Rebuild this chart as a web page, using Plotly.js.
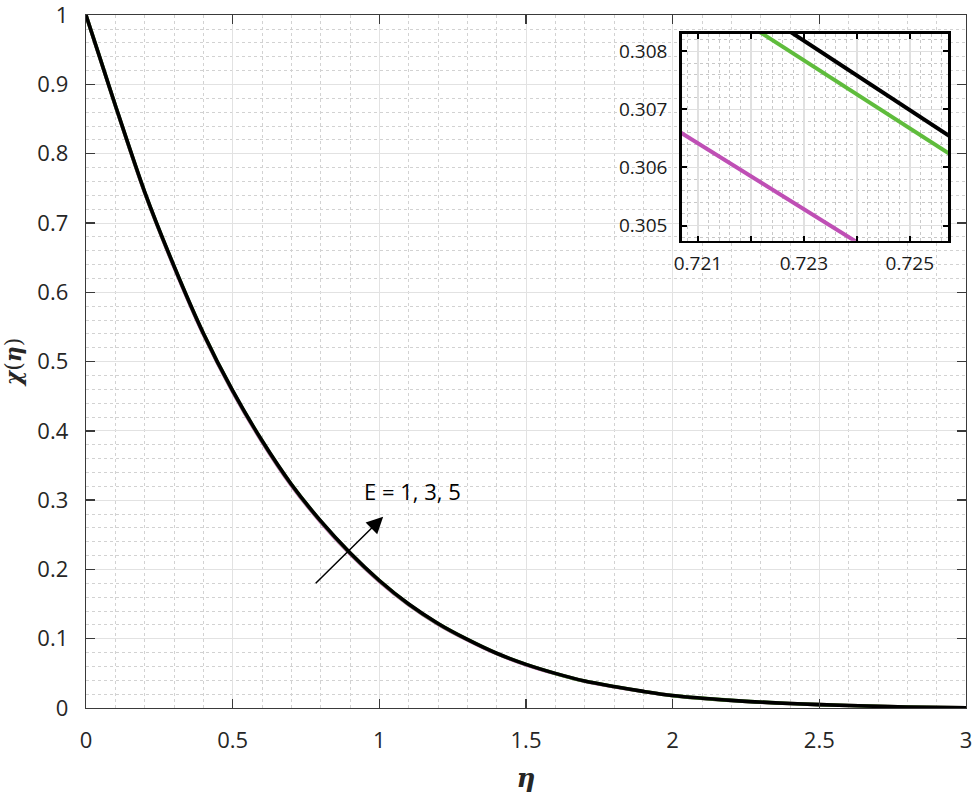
<!DOCTYPE html>
<html>
<head>
<meta charset="utf-8">
<script src="https://cdn.plot.ly/plotly-3.0.1.min.js"></script>
<style>html,body{margin:0;padding:0;background:#fff;}#chart{width:975px;height:794px;}</style>
</head>
<body>
<div id="chart"></div>
<script>
// ---- main panel data ----
const eta  = [0, 0.05, 0.1, 0.2, 0.3, 0.4, 0.5, 0.6, 0.7, 0.8, 0.9, 1.0, 1.1, 1.2, 1.3, 1.4, 1.5, 1.6, 1.7, 1.8, 1.9, 2.0, 2.2, 2.4, 2.6, 2.8, 3.0];
const chiE5 = [1, 0.935, 0.870, 0.745, 0.638, 0.541, 0.458, 0.386, 0.323, 0.270, 0.224, 0.184, 0.150, 0.122, 0.099, 0.079, 0.063, 0.050, 0.039, 0.031, 0.024, 0.018, 0.011, 0.0065, 0.0035, 0.0015, 0.0003];
const chiE3 = [1, 0.935, 0.8698, 0.7447, 0.6377, 0.5407, 0.4577, 0.3857, 0.3227, 0.2697, 0.2237, 0.1838, 0.1498, 0.1218, 0.0989, 0.0789, 0.0629, 0.0499, 0.0389, 0.0309, 0.0239, 0.0179, 0.011, 0.0065, 0.0035, 0.0015, 0.0003];
const chiE1 = [1, 0.9345, 0.8692, 0.7437, 0.6364, 0.5393, 0.4563, 0.3843, 0.3213, 0.2685, 0.2226, 0.1828, 0.1490, 0.1211, 0.0983, 0.0784, 0.0625, 0.0496, 0.0387, 0.0307, 0.0238, 0.0178, 0.0109, 0.0064, 0.0035, 0.0015, 0.0003];

// ---- inset (zoom) data ----
const insetEta = [0.7205, 0.7260];
const insetE1  = [0.30670, 0.30358];
const insetE3  = [0.30931, 0.30609];
const insetE5  = [0.30968, 0.30639];

const mainXTicks = [0, 0.5, 1, 1.5, 2, 2.5, 3];
const mainXText  = ['0', '0.5', '1', '1.5', '2', '2.5', '3'];
const mainYTicks = [0, 0.1, 0.2, 0.3, 0.4, 0.5, 0.6, 0.7, 0.8, 0.9, 1];
const mainYText  = ['0', '0.1', '0.2', '0.3', '0.4', '0.5', '0.6', '0.7', '0.8', '0.9', '1'];
const insetXTicks = [0.721, 0.722, 0.723, 0.724, 0.725];
const insetXText  = ['0.721', '', '0.723', '', '0.725'];
const insetYTicks = [0.305, 0.306, 0.307, 0.308];
const insetYText  = ['0.305', '0.306', '0.307', '0.308'];

const seriesNames = ['E = 1', 'E = 3', 'E = 5'];
const colors = ['#BF4FB5', '#5FBC3C', '#000000'];

const F = '"Open Sans", "Noto Sans", sans-serif';

const mainSeries = [chiE1, chiE3, chiE5];
const insetSeries = [insetE1, insetE3, insetE5];

const traces = [];
mainSeries.forEach((s, i) => traces.push({
  x: eta, y: s, type: 'scatter', mode: 'lines', name: seriesNames[i],
  line: {color: colors[i], width: 3.6, shape: 'spline', smoothing: 0.8},
  xaxis: 'x', yaxis: 'y', showlegend: false
}));
insetSeries.forEach((s, i) => traces.push({
  x: insetEta, y: s, type: 'scatter', mode: 'lines', name: seriesNames[i],
  line: {color: colors[i], width: 4},
  xaxis: 'x2', yaxis: 'y2', showlegend: false
}));

const axisCol = '#3a3a3a';
const layout = {
  width: 975, height: 794,
  margin: {l: 86, r: 9, t: 15, b: 86},
  paper_bgcolor: '#fff', plot_bgcolor: '#fff',
  font: {family: F, color: '#262626'},
  xaxis: {
    domain: [0, 1], range: [0, 3], tickvals: mainXTicks, ticktext: mainXText,
    showline: true, linecolor: axisCol, linewidth: 1.3, mirror: 'ticks',
    ticks: 'inside', ticklen: 9, tickcolor: axisCol, tickwidth: 1.3,
    showgrid: true, gridcolor: '#e2e2e2', gridwidth: 1,
    minor: {dtick: 0.1, tick0: 0, showgrid: true, gridcolor: '#d2d2d2', griddash: 'dot', gridwidth: 1, ticks: ''},
    zeroline: false, tickfont: {size: 22, family: F, color: '#262626'},
    ticklabelstandoff: 12, ticklabeloverflow: 'allow',
    title: {text: '<b><i>η</i></b>', font: {size: 26, family: 'DejaVu Serif, serif', color: '#262626'}, standoff: 16}
  },
  yaxis: {
    domain: [0, 1], range: [0, 1.0002], tickvals: mainYTicks, ticktext: mainYText,
    showline: true, linecolor: axisCol, linewidth: 1.3, mirror: 'ticks',
    ticks: 'inside', ticklen: 9, tickcolor: axisCol, tickwidth: 1.3,
    showgrid: true, gridcolor: '#e2e2e2', gridwidth: 1,
    minor: {dtick: 0.02, tick0: 0, showgrid: true, gridcolor: '#d2d2d2', griddash: 'dot', gridwidth: 1, ticks: ''},
    zeroline: false, tickfont: {size: 22, family: F, color: '#262626'},
    ticklabelstandoff: 12, ticklabeloverflow: 'allow',
    title: {text: '<b><i>χ</i></b>(<b><i>η</i></b>)', font: {size: 22, family: 'DejaVu Serif, serif', color: '#262626'}, standoff: 16}
  },
  xaxis2: {
    domain: [0.6773, 0.9795], anchor: 'y2', range: [0.7207, 0.72572],
    tickvals: insetXTicks, ticktext: insetXText,
    showline: true, linecolor: '#000', linewidth: 2.8, mirror: 'ticks',
    ticks: 'inside', ticklen: 5, tickcolor: '#000', tickwidth: 2,
    showgrid: true, gridcolor: '#e0e0e0', gridwidth: 1.5,
    minor: {dtick: 0.0002, tick0: 0.721, showgrid: true, gridcolor: '#c8c8c8', griddash: 'dot', gridwidth: 1, ticks: ''},
    zeroline: false, tickfont: {size: 19, family: F, color: '#1a1a1a'},
    ticklabelstandoff: 4
  },
  yaxis2: {
    domain: [0.6744, 0.9726], anchor: 'x2', range: [0.30474, 0.3083],
    tickvals: insetYTicks, ticktext: insetYText,
    showline: true, linecolor: '#000', linewidth: 2.8, mirror: 'ticks',
    ticks: 'inside', ticklen: 5, tickcolor: '#000', tickwidth: 2,
    showgrid: true, gridcolor: '#e0e0e0', gridwidth: 1.5,
    minor: {dtick: 0.0002, tick0: 0.305, showgrid: true, gridcolor: '#c8c8c8', griddash: 'dot', gridwidth: 1, ticks: ''},
    zeroline: false, tickfont: {size: 19, family: F, color: '#1a1a1a'},
    ticklabelstandoff: 8
  },
  shapes: [{
    type: 'rect', xref: 'x2 domain', yref: 'y2 domain', x0: 0, x1: 1, y0: 0, y1: 1,
    fillcolor: '#ffffff', line: {width: 0}, layer: 'below'
  }],
  annotations: [
    {x: 1.013, y: 0.276, ax: 0.778, ay: 0.178, xref: 'x', yref: 'y', axref: 'x', ayref: 'y',
     showarrow: true, arrowhead: 2, arrowsize: 2.2, arrowwidth: 1.5, arrowcolor: '#000', text: ''},
    {x: 0.942, y: 0.3135, xref: 'x', yref: 'y', xanchor: 'left', yanchor: 'middle', showarrow: false,
     text: 'E = 1, 3, 5', font: {size: 22, family: F, color: '#000'}}
  ],
  showlegend: false
};

Plotly.newPlot('chart', traces, layout, {staticPlot: true, displayModeBar: false});
</script>
</body>
</html>
